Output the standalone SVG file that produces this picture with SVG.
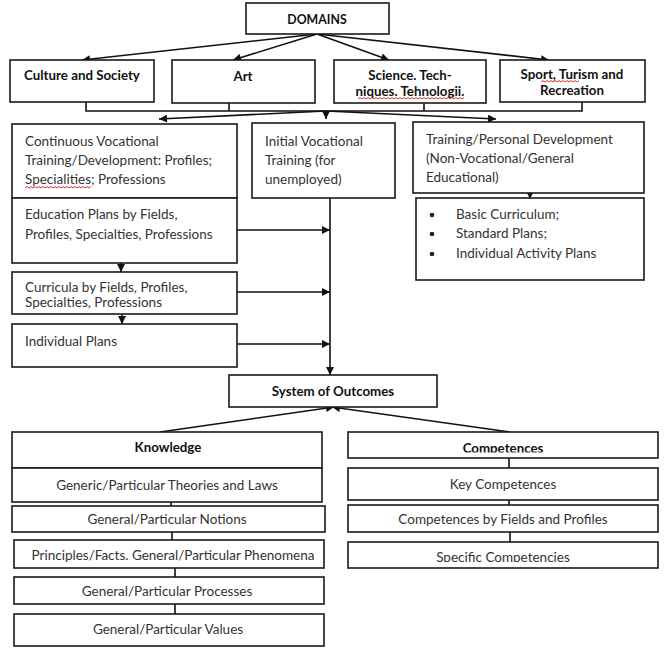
<svg xmlns="http://www.w3.org/2000/svg" width="667" height="652" viewBox="0 0 667 652">
<style>
.b{fill:#fff;stroke:#1a1a1a;stroke-width:1.6}
.t{font-family:Lato,"Open Sans","Liberation Sans",sans-serif;font-size:13.5px;fill:#333}
.h{font-family:Lato,"Open Sans","Liberation Sans",sans-serif;font-size:13.3px;font-weight:bold;fill:#111}
.d{font-size:12.3px}
.c{text-anchor:middle}
.l{fill:none;stroke:#111;stroke-width:1.6}
.sq{fill:none;stroke:#d42020;stroke-width:0.9}
</style>
<defs>
<marker id="ah" viewBox="0 0 10 10" refX="10" refY="5" markerWidth="9" markerHeight="8" markerUnits="userSpaceOnUse" orient="auto">
<path d="M0,0 L10,5 L0,10 z" fill="#111"/>
</marker>
<clipPath id="cpComp"><rect x="340" y="430" width="330" height="22.5"/></clipPath>
<clipPath id="cpSpec"><rect x="340" y="540" width="330" height="22"/></clipPath>
</defs>

<g id="connectors">
<line class="l" x1="317" y1="34" x2="82" y2="60" marker-end="url(#ah)"/>
<line class="l" x1="317" y1="34" x2="233" y2="60" marker-end="url(#ah)"/>
<line class="l" x1="317" y1="34" x2="389" y2="60" marker-end="url(#ah)"/>
<line class="l" x1="317" y1="34" x2="549" y2="60" marker-end="url(#ah)"/>
<polyline class="l" points="86,102 86,111 582,111 582,102"/>
<line class="l" x1="229" y1="103" x2="229" y2="111"/>
<line class="l" x1="424" y1="103" x2="424" y2="111"/>
<line class="l" x1="326" y1="111" x2="159" y2="119" marker-end="url(#ah)"/>
<line class="l" x1="326" y1="111" x2="496" y2="119" marker-end="url(#ah)"/>
<line class="l" x1="326" y1="111" x2="326" y2="119" marker-end="url(#ah)"/>
<line class="l" x1="121" y1="190" x2="121" y2="198" marker-end="url(#ah)"/>
<line class="l" x1="121" y1="263" x2="121" y2="272" marker-end="url(#ah)"/>
<line class="l" x1="122" y1="314" x2="122" y2="324" marker-end="url(#ah)"/>
<line class="l" x1="330" y1="189" x2="330" y2="375" marker-end="url(#ah)"/>
<line class="l" x1="237" y1="230" x2="330" y2="230" marker-end="url(#ah)"/>
<line class="l" x1="237" y1="292" x2="330" y2="292" marker-end="url(#ah)"/>
<line class="l" x1="237" y1="344" x2="330" y2="344" marker-end="url(#ah)"/>
<line class="l" x1="530" y1="192" x2="530" y2="199" marker-end="url(#ah)"/>
<line class="l" x1="160" y1="432" x2="334" y2="407" marker-end="url(#ah)"/>
<line class="l" x1="510" y1="432" x2="332" y2="407" marker-end="url(#ah)"/>
<line class="l" x1="173" y1="458" x2="173" y2="468"/>
<line class="l" x1="171" y1="502" x2="171" y2="506"/>
<line class="l" x1="172" y1="532" x2="172" y2="540"/>
<line class="l" x1="175" y1="568" x2="175" y2="577"/>
<line class="l" x1="175" y1="604" x2="175" y2="614"/>
<line class="l" x1="509" y1="458" x2="509" y2="468"/>
<line class="l" x1="509" y1="500" x2="509" y2="505"/>
<line class="l" x1="510" y1="532" x2="510" y2="542"/>
</g>

<g id="domains"><rect class="b" x="246" y="3" width="143" height="31"/><text class="h d c" x="317" y="24">DOMAINS</text></g>
<g id="culture"><rect class="b" x="10" y="60" width="144" height="42"/><text class="h c" x="82" y="80">Culture and Society</text></g>
<g id="art"><rect class="b" x="172" y="60" width="143" height="43"/><text class="h c" x="243" y="81">Art</text></g>
<g id="science"><rect class="b" x="334" y="60" width="152" height="43"/><text class="h c" x="410" y="80">Science. Tech-</text><text class="h c" x="410" y="96">niques. Tehnologii.</text>
<path class="sq" d="M358,99 l2,-1.5 l2,1.5 l2,-1.5 l2,1.5 l2,-1.5 l2,1.5 l2,-1.5 l2,1.5 l2,-1.5 l2,1.5 l2,-1.5 l2,1.5 l2,-1.5 l2,1.5 l2,-1.5 l2,1.5 l2,-1.5 l2,1.5 l2,-1.5 l2,1.5 l2,-1.5 l2,1.5 l2,-1.5 l2,1.5 l2,-1.5 l2,1.5 l2,-1.5 l2,1.5 l2,-1.5 l2,1.5 l2,-1.5 l2,1.5 l2,-1.5 l2,1.5 l2,-1.5 l2,1.5 l2,-1.5 l2,1.5 l2,-1.5 l2,1.5 l2,-1.5 l2,1.5 l2,-1.5 l2,1.5 l2,-1.5 l2,1.5 l2,-1.5 l2,1.5 l2,-1.5 l2,1.5 l2,-1.5 l2,1.5 l2,-1.5"/></g>
<g id="sport"><rect class="b" x="500" y="60" width="145" height="42"/><text class="h c" x="572" y="79">Sport, Turism and</text><text class="h c" x="572" y="95">Recreation</text>
<path class="sq" d="M541,82 l2,-1.5 l2,1.5 l2,-1.5 l2,1.5 l2,-1.5 l2,1.5 l2,-1.5 l2,1.5 l2,-1.5 l2,1.5 l2,-1.5 l2,1.5 l2,-1.5 l2,1.5 l2,-1.5 l2,1.5 l2,-1.5 l2,1.5 l2,-1.5"/></g>

<g id="continuous"><rect class="b" x="12" y="124" width="225" height="74"/>
<text class="t" x="25" y="146">Continuous Vocational</text>
<text class="t" x="25" y="165">Training/Development: Profiles;</text>
<text class="t" x="25" y="184">Specialities; Professions</text>
<path class="sq" d="M25,188 l2,-1.5 l2,1.5 l2,-1.5 l2,1.5 l2,-1.5 l2,1.5 l2,-1.5 l2,1.5 l2,-1.5 l2,1.5 l2,-1.5 l2,1.5 l2,-1.5 l2,1.5 l2,-1.5 l2,1.5 l2,-1.5 l2,1.5 l2,-1.5 l2,1.5 l2,-1.5 l2,1.5 l2,-1.5 l2,1.5 l2,-1.5 l2,1.5 l2,-1.5 l2,1.5 l2,-1.5 l2,1.5 l2,-1.5 l2,1.5 l2,-1.5"/></g>
<g id="education"><rect class="b" x="12" y="198" width="225" height="65"/>
<text class="t" x="25" y="219">Education Plans by Fields,</text>
<text class="t" x="25" y="239">Profiles, Specialties, Professions</text></g>
<g id="curricula"><rect class="b" x="12" y="272" width="225" height="42"/>
<text class="t" x="25" y="292">Curricula by Fields, Profiles,</text>
<text class="t" x="25" y="307">Specialties, Professions</text></g>
<g id="individual"><rect class="b" x="12" y="324" width="225" height="43"/>
<text class="t" x="25" y="346">Individual Plans</text></g>
<g id="initial"><rect class="b" x="252" y="123" width="143" height="75"/>
<text class="t" x="265" y="146">Initial Vocational</text>
<text class="t" x="265" y="165">Training (for</text>
<text class="t" x="265" y="184">unemployed)</text></g>
<g id="training"><rect class="b" x="413" y="122" width="231" height="71"/>
<text class="t" x="426" y="144">Training/Personal Development</text>
<text class="t" x="426" y="163">(Non-Vocational/General</text>
<text class="t" x="426" y="182">Educational)</text></g>
<g id="plans"><rect class="b" x="416" y="198" width="228" height="82"/>
<circle cx="432" cy="215" r="2.3" fill="#222"/><text class="t" x="456" y="219">Basic Curriculum;</text>
<circle cx="432" cy="234" r="2.3" fill="#222"/><text class="t" x="456" y="238">Standard Plans;</text>
<circle cx="432" cy="254" r="2.3" fill="#222"/><text class="t" x="456" y="258">Individual Activity Plans</text></g>

<g id="outcomes"><rect class="b" x="229" y="375" width="208" height="32"/><text class="h c" x="333" y="396">System of Outcomes</text></g>

<g id="knowledge"><rect class="b" x="12" y="432" width="310" height="36"/><text class="h c" x="168" y="452">Knowledge</text></g>
<g id="theories"><rect class="b" x="12" y="468" width="310" height="34"/><text class="t c" x="167" y="490">Generic/Particular Theories and Laws</text></g>
<g id="notions"><rect class="b" x="12" y="506" width="313" height="26"/><text class="t c" x="167" y="524">General/Particular Notions</text></g>
<g id="principles"><rect class="b" x="14" y="540" width="310" height="28"/><text class="t c" x="173" y="560">Principles/Facts. General/Particular Phenomena</text></g>
<g id="processes"><rect class="b" x="14" y="577" width="310" height="27"/><text class="t c" x="167" y="596">General/Particular Processes</text></g>
<g id="values"><rect class="b" x="14" y="614" width="310" height="32"/><text class="t c" x="168" y="634">General/Particular Values</text></g>

<g id="competences"><rect class="b" x="348" y="432" width="310" height="26"/><text class="h c" x="503" y="453" clip-path="url(#cpComp)">Competences</text></g>
<g id="key"><rect class="b" x="348" y="468" width="310" height="32"/><text class="t c" x="503" y="489">Key Competences</text></g>
<g id="fields"><rect class="b" x="348" y="505" width="310" height="27"/><text class="t c" x="503" y="524">Competences by Fields and Profiles</text></g>
<g id="specific"><rect class="b" x="348" y="542" width="310" height="26"/><text class="t c" x="503" y="562" clip-path="url(#cpSpec)">Specific Competencies</text></g>
</svg>
